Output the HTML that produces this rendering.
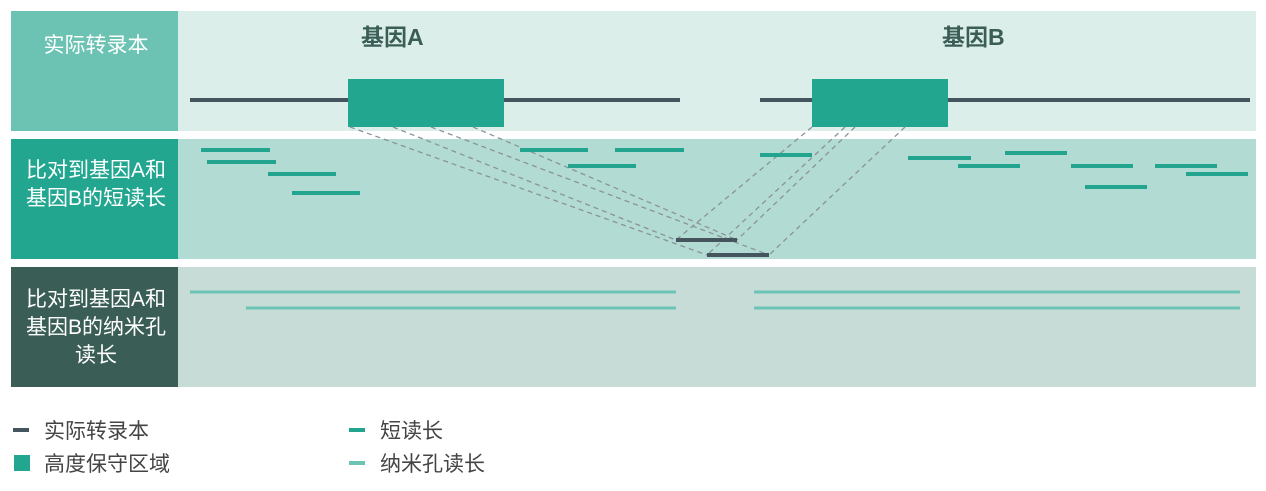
<!DOCTYPE html>
<html><head><meta charset="utf-8"><style>
body{margin:0;width:1266px;height:486px;background:#fff;overflow:hidden;font-family:"Liberation Sans","Noto Sans CJK SC",sans-serif}
</style></head><body>
<svg width="1266" height="486" xmlns="http://www.w3.org/2000/svg" font-family="Liberation Sans, Noto Sans CJK SC, sans-serif">
<rect x="11" y="11" width="167" height="120" fill="#6cc3b3"/>
<rect x="178" y="11" width="1078" height="120" fill="#dceeea"/>
<rect x="11" y="139" width="167" height="120" fill="#22a68f"/>
<rect x="178" y="139" width="1078" height="120" fill="#b2dbd4"/>
<rect x="11" y="267" width="167" height="120" fill="#3a5e55"/>
<rect x="178" y="267" width="1078" height="120" fill="#c8dcd7"/>
<g fill="#fff" font-size="21" text-anchor="middle">
<text x="96" y="52">实际转录本</text>
<text x="96" y="177">比对到基因A和</text>
<text x="96" y="205">基因B的短读长</text>
<text x="96" y="306">比对到基因A和</text>
<text x="96" y="334">基因B的纳米孔</text>
<text x="96" y="362">读长</text>
</g>
<g fill="#3a5e55" font-size="23" font-weight="bold">
<text x="361" y="45">基因A</text>
<text x="942" y="45">基因B</text>
</g>
<g stroke="#44555e" stroke-width="4">
<line x1="190" y1="100" x2="680" y2="100"/>
<line x1="760" y1="100" x2="1250" y2="100"/>
</g>
<rect x="348" y="79" width="156" height="48" fill="#22a68f"/>
<rect x="812" y="79" width="136" height="48" fill="#22a68f"/>
<g stroke="#8a9396" stroke-width="1.3" stroke-dasharray="5,4" fill="none">
<line x1="350" y1="127" x2="707" y2="255"/>
<line x1="393" y1="127" x2="676" y2="240"/>
<line x1="431" y1="127" x2="769" y2="255"/>
<line x1="473" y1="127" x2="737" y2="240"/>
<line x1="812" y1="127" x2="676" y2="240"/>
<line x1="845" y1="127" x2="707" y2="255"/>
<line x1="855" y1="127" x2="737" y2="240"/>
<line x1="905" y1="127" x2="769" y2="255"/>
</g>
<g stroke="#44555e" stroke-width="4">
<line x1="676" y1="240" x2="737" y2="240"/>
<line x1="707" y1="255" x2="769" y2="255"/>
</g>
<g stroke="#22a48e" stroke-width="4">
<line x1="201" y1="150" x2="270" y2="150"/>
<line x1="207" y1="162" x2="276" y2="162"/>
<line x1="268" y1="174" x2="336" y2="174"/>
<line x1="292" y1="193" x2="360" y2="193"/>
<line x1="520" y1="150" x2="588" y2="150"/>
<line x1="615" y1="150" x2="684" y2="150"/>
<line x1="568" y1="166" x2="636" y2="166"/>
<line x1="760" y1="155" x2="812" y2="155"/>
<line x1="908" y1="158" x2="971" y2="158"/>
<line x1="958" y1="166" x2="1020" y2="166"/>
<line x1="1005" y1="153" x2="1067" y2="153"/>
<line x1="1071" y1="166" x2="1133" y2="166"/>
<line x1="1085" y1="187" x2="1147" y2="187"/>
<line x1="1155" y1="166" x2="1217" y2="166"/>
<line x1="1186" y1="174" x2="1248" y2="174"/>
</g>
<g stroke="#6cc5b4" stroke-width="3">
<line x1="190" y1="292" x2="676" y2="292"/>
<line x1="246" y1="308" x2="676" y2="308"/>
<line x1="754" y1="292" x2="1240" y2="292"/>
<line x1="754" y1="308" x2="1240" y2="308"/>
</g>
<line x1="13" y1="430" x2="29" y2="430" stroke="#44555e" stroke-width="4"/>
<rect x="14" y="455" width="16" height="16" fill="#22a68f"/>
<line x1="349" y1="430" x2="365" y2="430" stroke="#22a48e" stroke-width="4"/>
<line x1="349" y1="463" x2="365" y2="463" stroke="#6cc5b4" stroke-width="4"/>
<g fill="#444" font-size="21">
<text x="44" y="438">实际转录本</text>
<text x="44" y="471">高度保守区域</text>
<text x="380" y="438">短读长</text>
<text x="380" y="471">纳米孔读长</text>
</g>
</svg>
</body></html>
